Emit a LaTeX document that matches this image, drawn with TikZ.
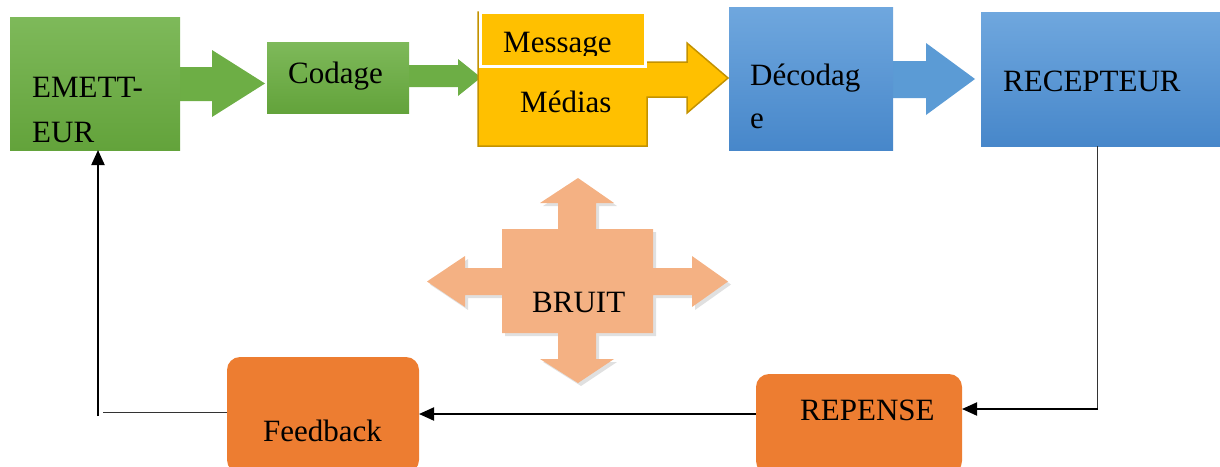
\documentclass[tikz,border=0pt]{standalone}
\usepackage{fontspec}
\setmainfont{Liberation Serif}
\usetikzlibrary{arrows.meta}

\definecolor{grtop}{HTML}{7EB95A}
\definecolor{grbot}{HTML}{63A33B}
\definecolor{grarrow}{HTML}{6DAE45}
\definecolor{bltop}{HTML}{6FA7DE}
\definecolor{blbot}{HTML}{4787CA}
\definecolor{blarrow}{HTML}{5B9BD5}
\definecolor{yel}{HTML}{FFC000}
\definecolor{yeledge}{HTML}{C39200}
\definecolor{orng}{HTML}{ED7D31}
\definecolor{peach}{HTML}{F4B183}

\tikzset{
  box/.style={rectangle, inner sep=0pt, outer sep=0pt},
  greenbox/.style={box, top color=grtop, bottom color=grbot},
  bluebox/.style={box, top color=bltop, bottom color=blbot},
  orangebox/.style={box, fill=orng, rounded corners=13pt},
  lbl/.style={anchor=base west, inner sep=0pt, font=\fontsize{31}{37}\selectfont},
  thinline/.style={draw=black!80, line width=1pt},
  thickline/.style={draw=black, line width=2pt},
  tip/.style={-{Triangle[length=15pt,width=13pt]}}
}

\begin{document}
\begin{tikzpicture}[x=1pt,y=-1pt]
\useasboundingbox (0,0) rectangle (1220,466);
\clip (0,0) rectangle (1220,466);

% block arrows between the upper boxes
\fill[grarrow] (180,67) -- (212,67) -- (212,50) -- (265,83.5) -- (212,117) -- (212,101) -- (180,101) -- cycle;
\fill[grarrow] (405,65) -- (458,65) -- (458,59) -- (481,77.5) -- (458,96) -- (458,87) -- (405,87) -- cycle;
\fill[blarrow] (890,61) -- (926,61) -- (926,43) -- (975,79) -- (926,115) -- (926,98) -- (890,98) -- cycle;

% upper row of boxes
\node[greenbox, minimum width=170pt, minimum height=133pt] (em) at (95,83.5) {};
\node[greenbox, minimum width=142pt, minimum height=71pt] (cod) at (338,77.5) {};
\node[bluebox, minimum width=164pt, minimum height=143pt] (dec) at (811,78.5) {};
\node[bluebox, minimum width=242pt, minimum height=134pt] (rec) at (1102,79) {};

% media block with its arrow
\draw[fill=yel, draw=yeledge, line width=1.5pt]
  (478,12) -- (645.5,12) -- (645.5,62) -- (687,62) -- (687,43) -- (728,78)
  -- (687,113) -- (687,97) -- (647,97) -- (647,146) -- (478,146) -- cycle;
\node[box, fill=yel, draw=white, line width=3pt, minimum width=165pt, minimum height=54pt] (msg) at (563,39.5) {};

% noise symbol
\fill[black, opacity=0.12]
  ([shift={(3,3)}]578,178) -- ++(36,25) -- ++(-18,0) -- ++(0,26) -- ++(57,0) -- ++(0,39)
  -- ++(39,0) -- ++(0,-12) -- ++(36,25.5) -- ++(-36,25.5) -- ++(0,-12) -- ++(-39,0)
  -- ++(0,38) -- ++(-57,0) -- ++(0,26) -- ++(18,0) -- ++(-36,24) -- ++(-38,-24)
  -- ++(18,0) -- ++(0,-26) -- ++(-56,0) -- ++(0,-38) -- ++(-37,0) -- ++(0,12)
  -- ++(-38,-25.5) -- ++(38,-25.5) -- ++(0,12) -- ++(37,0) -- ++(0,-39) -- ++(56,0)
  -- ++(0,-26) -- ++(-18,0) -- cycle;
\fill[peach]
  (578,178) -- (614,203) -- (596,203) -- (596,229) -- (653,229) -- (653,268)
  -- (692,268) -- (692,256) -- (728,281.5) -- (692,307) -- (692,295) -- (653,295)
  -- (653,333) -- (596,333) -- (596,359) -- (614,359) -- (578,383) -- (540,359)
  -- (558,359) -- (558,333) -- (502,333) -- (502,295) -- (465,295) -- (465,307)
  -- (427,281.5) -- (465,256) -- (465,268) -- (502,268) -- (502,229) -- (558,229)
  -- (558,203) -- (540,203) -- cycle;

% lower row of boxes
\node[orangebox, minimum width=206pt, minimum height=100pt] (rep) at (859,424) {};
\node[orangebox, minimum width=192pt, minimum height=116pt] (fb) at (323,415) {};

% labels
\node[lbl] (tem1) at (32,97) {EMETT-};
\node[lbl] (tem2) at (32,142) {EUR};
\node[lbl] (tcod) at (288,83) {Codage};
\begin{scope}
  \clip (482,14) rectangle (644,55);
  \node[lbl] (tmsg) at (503,52) {Message};
\end{scope}
\node[lbl] (tmed) at (520,112) {Médias};
\node[lbl] (tdec1) at (750,85) {Décodag};
\node[lbl] (tdec2) at (750,128) {e};
\node[lbl] (trec) at (1003,91) {RECEPTEUR};
\node[lbl] (tbr) at (532,312) {BRUIT};
\node[lbl] (trep) at (800,420) {REPENSE};
\node[lbl] (tfb) at (263,441) {Feedback};

% feedback loop
\coordinate (rc) at (1097,409);
\draw[thinline] (rec.south -| rc) -- (rc);
\draw[thickline, tip] ([xshift=1pt]rc) -- (rc -| rep.east);
\draw[thickline, tip] (rep.west |- 0,414) -- (fb.east |- 0,414);
\coordinate (ec) at (98,412);
\draw[thinline] (fb.west |- ec) -- ([xshift=5pt]ec);
\draw[thickline, tip] ([yshift=-4pt]ec) -- (em.south -| ec);
\end{tikzpicture}
\end{document}
